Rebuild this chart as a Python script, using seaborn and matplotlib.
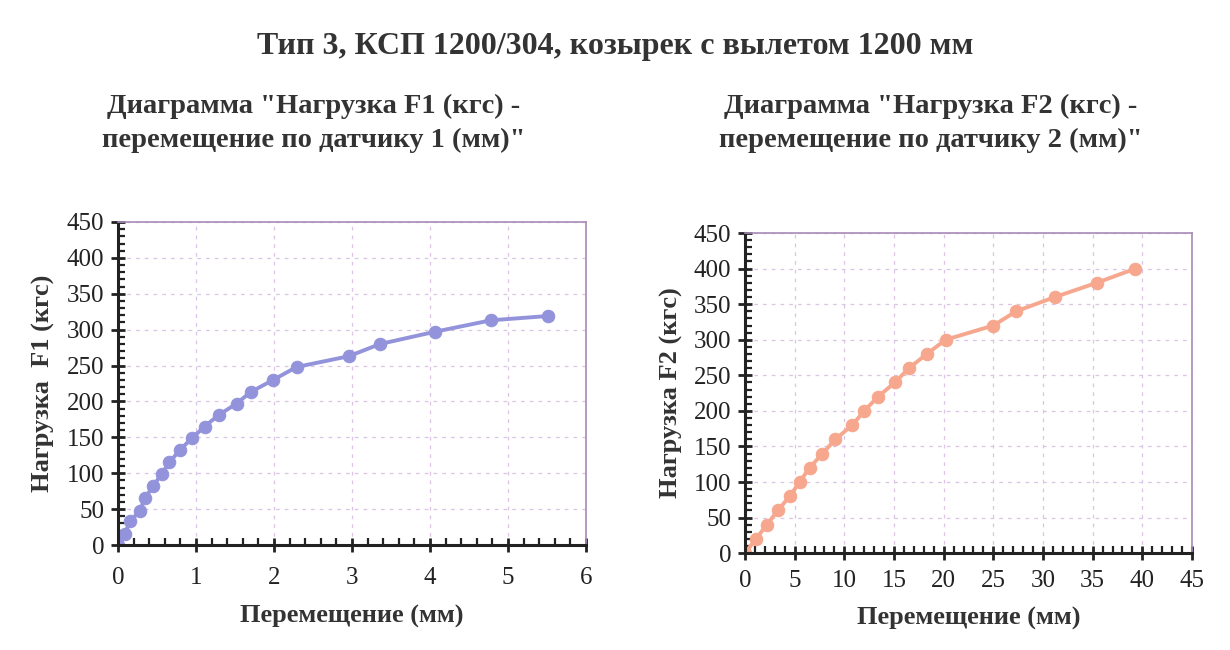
import numpy as np
import pandas as pd
import seaborn as sns
import matplotlib
matplotlib.use('agg')
import matplotlib.pyplot as plt
from matplotlib.ticker import MultipleLocator

# sensor 1 (left chart)
disp1 = [0, 0.085, 0.16, 0.28, 0.35, 0.45, 0.56, 0.66, 0.79, 0.95, 1.11,
         1.29, 1.52, 1.70, 1.99, 2.29, 2.96, 3.36, 4.06, 4.78, 5.51]
load1 = [0, 16, 33, 48, 66, 82, 99, 115, 132, 149, 165,
         181, 197, 213, 230, 248, 263, 280, 297, 313, 319]

# sensor 2 (right chart)
disp2 = [0, 1.1, 2.2, 3.3, 4.5, 5.5, 6.5, 7.8, 9.1, 10.8, 12.0,
         13.4, 15.1, 16.5, 18.3, 20.2, 25.0, 27.3, 31.2, 35.4, 39.3]
load2 = [0, 20, 40, 60, 80, 100, 120, 140, 160, 180, 200,
         220, 240, 260, 280, 300, 320, 340, 360, 380, 400]

title = "Тип 3, КСП 1200/304, козырек с вылетом 1200 мм"
sub1 = "Диаграмма \"Нагрузка F1 (кгс) -\nперемещение по датчику 1 (мм)\""
sub2 = "Диаграмма \"Нагрузка F2 (кгс) -\nперемещение по датчику 2 (мм)\""
ylab1 = "Нагрузка  F1 (кгс)"
ylab2 = "Нагрузка F2 (кгс)"
xlab = "Перемещение (мм)"

sns.set_theme(style="white")
plt.rcParams['font.family'] = ['Liberation Serif', 'DejaVu Serif']

fig = plt.figure(figsize=(12.3, 6.5), dpi=100)
ax1 = fig.add_axes([0.0959, 0.1615, 0.3805, 0.497])
ax2 = fig.add_axes([0.6057, 0.149, 0.3634, 0.4925])

df1 = pd.DataFrame({"x": disp1, "y": load1})
df2 = pd.DataFrame({"x": disp2, "y": load2})

sns.lineplot(data=df1, x="x", y="y", ax=ax1, color="#9393dc", linewidth=2.8,
             marker="o", markersize=9, markeredgecolor="#9393dc", sort=False)
sns.lineplot(data=df2, x="x", y="y", ax=ax2, color="#f6a78e", linewidth=2.8,
             marker="o", markersize=9, markeredgecolor="#f6a78e", sort=False)

for ax, xmax, xmaj, xmin_, ylab, xpad in [(ax1, 6, 1, 0.2, ylab1, 11), (ax2, 45, 5, 1, ylab2, 7)]:
    ax.set_xlim(0, xmax)
    ax.set_ylim(0, 450)
    ax.xaxis.set_major_locator(MultipleLocator(xmaj))
    ax.xaxis.set_minor_locator(MultipleLocator(xmin_))
    ax.yaxis.set_major_locator(MultipleLocator(50))
    ax.yaxis.set_minor_locator(MultipleLocator(10))
    ax.grid(True, which="major", linestyle=(0, (3, 4)), color="#dcc4e6", linewidth=0.9)
    for side in ["left", "bottom"]:
        ax.spines[side].set_color("#222222")
        ax.spines[side].set_linewidth(2.2)
    for side in ["top", "right"]:
        ax.spines[side].set_color("#a88ab8")
        ax.spines[side].set_linewidth(1.2)
    ax.tick_params(which="major", direction="inout", length=10, width=2, color="#222222",
                   labelsize=18, labelcolor="#222222")
    ax.tick_params(axis="x", which="major", pad=xpad)
    ax.tick_params(axis="y", which="major", pad=5)
    ax.tick_params(which="minor", direction="in", length=5, width=1.6, color="#222222")
    ax.tick_params(top=False, right=False, bottom=True, left=True)
    ax.tick_params(which="minor", top=False, right=False, bottom=True, left=True)
    ax.set_xlabel(xlab, fontsize=19, fontweight="bold", color="#333333", labelpad=11)
    ax.set_ylabel(ylab, fontsize=19, fontweight="bold", color="#333333", labelpad=8)

fig.text(0.5, 0.928, title, ha="center", va="center", fontsize=23,
         fontweight="bold", color="#333333")
fig.text(0.255, 0.81, sub1, ha="center", va="center", fontsize=20.5,
         fontweight="bold", color="#333333", linespacing=1.45)
fig.text(0.757, 0.81, sub2, ha="center", va="center", fontsize=20.5,
         fontweight="bold", color="#333333", linespacing=1.45)

fig.savefig("out.png", dpi=100)
